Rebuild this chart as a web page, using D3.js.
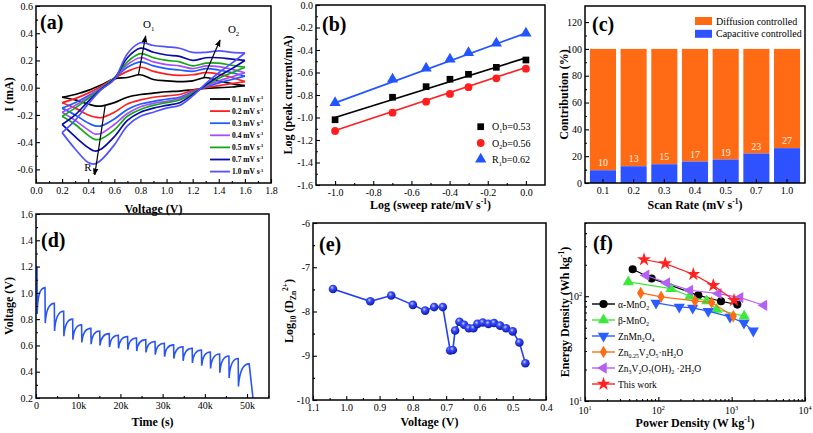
<!DOCTYPE html>
<html><head><meta charset="utf-8">
<script src="https://cdn.jsdelivr.net/npm/d3@7"></script>
<style>body{margin:0;background:#fff}svg{display:block}</style>
</head><body>
<script>
// ================= DATA =================
// (a) CV curves
const cvRates = ["0.1","0.2","0.3","0.4","0.5","0.7","1.0"];
const cvUpperV = [0.2,0.3,0.4,0.5,0.6,0.7,0.8,0.9,1.0,1.1,1.2,1.3,1.4,1.5,1.6];
const cvLowerV = [1.6,1.5,1.4,1.3,1.2,1.1,1.0,0.9,0.8,0.7,0.6,0.5,0.45,0.4,0.3,0.2];
const cvUpperI = [
 [-0.07,-0.05,-0.02,0.02,0.065,0.075,0.095,0.06,0.05,0.045,0.05,0.075,0.05,0.03,0.015],
 [-0.11,-0.08,-0.04,0.01,0.07,0.12,0.15,0.12,0.10,0.09,0.095,0.11,0.10,0.075,0.045],
 [-0.15,-0.11,-0.06,0.0,0.07,0.15,0.19,0.16,0.14,0.13,0.12,0.14,0.13,0.11,0.085],
 [-0.18,-0.13,-0.07,0.0,0.07,0.17,0.22,0.19,0.17,0.16,0.14,0.16,0.155,0.135,0.11],
 [-0.21,-0.15,-0.08,-0.005,0.07,0.19,0.25,0.22,0.20,0.19,0.16,0.18,0.18,0.165,0.15],
 [-0.27,-0.20,-0.10,-0.01,0.065,0.22,0.29,0.26,0.24,0.23,0.20,0.22,0.22,0.21,0.20],
 [-0.33,-0.24,-0.12,-0.015,0.06,0.25,0.33,0.31,0.30,0.29,0.26,0.26,0.27,0.26,0.255]
];
const cvLowerI = [
 [0.015,0.005,0.0,-0.005,-0.015,-0.025,-0.03,-0.04,-0.05,-0.07,-0.11,-0.135,-0.133,-0.12,-0.09,-0.07],
 [0.045,0.03,0.015,0.0,-0.02,-0.05,-0.06,-0.07,-0.09,-0.12,-0.18,-0.22,-0.215,-0.2,-0.15,-0.11],
 [0.085,0.06,0.035,0.005,-0.03,-0.07,-0.085,-0.10,-0.12,-0.16,-0.23,-0.28,-0.28,-0.26,-0.2,-0.15],
 [0.11,0.08,0.05,0.01,-0.035,-0.08,-0.10,-0.115,-0.14,-0.19,-0.27,-0.335,-0.34,-0.31,-0.24,-0.18],
 [0.15,0.11,0.07,0.015,-0.04,-0.09,-0.11,-0.13,-0.16,-0.21,-0.31,-0.375,-0.38,-0.35,-0.27,-0.21],
 [0.20,0.14,0.085,0.02,-0.05,-0.11,-0.13,-0.15,-0.18,-0.24,-0.36,-0.45,-0.465,-0.44,-0.36,-0.27],
 [0.255,0.18,0.11,0.03,-0.06,-0.13,-0.15,-0.18,-0.21,-0.28,-0.42,-0.53,-0.56,-0.55,-0.45,-0.33]
];
const cvArrows = [ // [letter, index, fromV, fromI, toV, toI, labelV, labelI]
 ["O","1",0.784,0.093,0.84,0.38,0.82,0.44],
 ["O","2",1.286,0.076,1.41,0.35,1.47,0.40],
 ["R","1",0.53,-0.13,0.45,-0.64,0.37,-0.61]
];
const cvXTicks = [0.0,0.2,0.4,0.6,0.8,1.0,1.2,1.4,1.6,1.8];
const cvYTicks = [-0.6,-0.4,-0.2,0.0,0.2,0.4,0.6];

// (b) log peak current vs log sweep rate
const sweepLog = [-1.0,-0.699,-0.523,-0.398,-0.301,-0.155,0.0];
const peakO1 = [-1.02,-0.82,-0.726,-0.66,-0.616,-0.554,-0.489];
const peakO2 = [-1.12,-0.957,-0.859,-0.79,-0.73,-0.652,-0.566];
const peakR1 = [-0.868,-0.66,-0.563,-0.483,-0.424,-0.34,-0.252];
const peakNames = [["O","1","b=0.53"],["O","2","b=0.56"],["R","1","b=0.62"]];
const fitSlope = [0.53,0.56,0.62];
const fitIntercept = [-0.47,-0.555,-0.25];
const bXTicks = [-1.0,-0.8,-0.6,-0.4,-0.2,0.0];
const bYTicks = [-1.6,-1.4,-1.2,-1.0,-0.8,-0.6,-0.4,-0.2,0.0];

// (c) contribution
const scanRates = ["0.1","0.2","0.3","0.4","0.5","0.7","1.0"];
const capacitive = [9.5,12.5,14,16,17.5,22,26];
const capLabels = ["10","13","15","17","19","23","27"];
const totalContribution = [100,100,100,100,100,100,100];
const cYTicks = [0,20,40,60,80,100,120];

// (d) GITT
const gittTime = [0,2130,4340,6550,8680,10800,13000,15100,17350,19500,21700,23800,26000,28200,30400,32600,34800,37000,39200,41300,43500,45700,47900,50500];
const gittTop = [1.2,1.04,0.92,0.86,0.80,0.757,0.73,0.71,0.69,0.678,0.668,0.657,0.644,0.63,0.617,0.604,0.59,0.578,0.565,0.55,0.535,0.52,0.50,0.46];
const gittBottom = [0.84,0.77,0.71,0.67,0.644,0.623,0.61,0.60,0.588,0.578,0.567,0.557,0.546,0.53,0.514,0.50,0.483,0.467,0.446,0.425,0.393,0.353,0.287];
const gittCutoff = [51400,0.2];
const dXTicks = [0,10000,20000,30000,40000,50000];
const dYTicks = [0.2,0.4,0.6,0.8,1.0,1.2,1.4,1.6];

// (e) diffusion coefficient
const eVoltage = [1.04,0.928,0.865,0.80,0.763,0.736,0.71,0.688,0.68,0.673,0.66,0.646,0.632,0.618,0.606,0.59,0.573,0.556,0.538,0.52,0.50,0.48,0.462];
const eLogD = [-7.49,-7.77,-7.64,-7.85,-7.98,-7.90,-7.90,-8.88,-8.87,-8.43,-8.23,-8.30,-8.38,-8.38,-8.28,-8.25,-8.28,-8.26,-8.32,-8.38,-8.45,-8.70,-9.17];
const eXTicks = [1.1,1.0,0.9,0.8,0.7,0.6,0.5,0.4];
const eYTicks = [-10,-9,-8,-7,-6];

// (f) Ragone
const ragoneNames = ["alpha","beta","znmn","znv","znvoh","this"];
const ragonePower = [
 [44.7,81,351,716,1194],
 [39,149,269,457,624,1480],
 [93,193,294,479,949,1472,1972],
 [57.4,109,316,533,1054],
 [68,130,269,658,1300,2754],
 [63.8,124,300,562,1076]
];
const ragoneEnergy = [
 [181,147.6,102,89.5,83.2],
 [137,118,100,90,74.7,64.5],
 [86.3,79,77.4,72,63.5,55.6,46.7],
 [107.6,98.6,90.2,87,64.4],
 [158.6,134,114,106,97,82],
 [224,205,162,127,91.6]
];
const fTicksExp = [1,2,3,4];

// ================= STYLE =================
const FONT = "'Liberation Serif','Times New Roman',serif";
const cvColors = ["#000000","#ff1f1f","#1f5cff","#a64dff","#14a814","#0a0aa8","#5252ff"];
const bColors = ["#000000","#ff1f1f","#2255ff"];
const ragoneColors = ["#000000","#3de83d","#2b5cff","#ff6a13","#b260f5","#ff2222"];
const ORANGE = "#ff6a14", BLUE = "#2e52ff";

const svg = d3.select("body").append("svg").attr("width",813).attr("height",433)
  .style("font-family",FONT);

function rich(t, parts, fs){
  let shift = 0;
  parts.forEach(([s,k])=>{
    const target = k==="sup" ? -0.38*fs : k==="sub" ? 0.28*fs : 0;
    t.append("tspan").attr("dy", target-shift).attr("font-size", k ? fs*0.62 : fs).text(s);
    shift = target;
  });
  return t;
}
function styleAxis(sel, fs){
  sel.select(".domain").remove();
  sel.attr("font-family",null).attr("font-size",null);
  sel.selectAll("text").attr("font-size",fs||10).attr("fill","#000");
  sel.selectAll("line").attr("stroke","#000").attr("stroke-width",1.1);
}
const mids = a => d3.pairs(a).map(([p,q])=>(p+q)/2);
function axes(g, x, y, o){
  const xr=x.range(), yr=y.range();
  const L=Math.min(...xr), R=Math.max(...xr), T=Math.min(...yr), B=Math.max(...yr);
  const bx = d3.axisBottom(x).tickSize(-4).tickPadding(4);
  if(o.xMajor) bx.tickValues(o.xMajor);
  bx.tickFormat(o.xFmt || (d=>d));
  g.append("g").attr("transform",`translate(0,${B})`).call(bx).call(s=>styleAxis(s,10));
  if(o.xMinor) g.append("g").attr("transform",`translate(0,${B})`)
     .call(d3.axisBottom(x).tickValues(o.xMinor).tickSize(-2).tickFormat("")).call(s=>styleAxis(s));
  const ly = d3.axisLeft(y).tickSize(-4).tickPadding(3);
  if(o.yMajor) ly.tickValues(o.yMajor);
  ly.tickFormat(o.yFmt || (d=>d));
  g.append("g").attr("transform",`translate(${L},0)`).call(ly).call(s=>styleAxis(s,10));
  if(o.yMinor) g.append("g").attr("transform",`translate(${L},0)`)
     .call(d3.axisLeft(y).tickValues(o.yMinor).tickSize(-2).tickFormat("")).call(s=>styleAxis(s));
  g.append("rect").attr("x",L).attr("y",T).attr("width",R-L).attr("height",B-T)
    .attr("fill","none").attr("stroke","#000").attr("stroke-width",1.5);
  return {L,R,T,B};
}
function xTitle(g, x, y, parts){
  rich(g.append("text").attr("x",x).attr("y",y).attr("text-anchor","middle").attr("font-weight","bold"), parts, 12);
}
function yTitle(g, x, y, parts){
  rich(g.append("text").attr("transform",`translate(${x},${y}) rotate(-90)`).attr("text-anchor","middle").attr("font-weight","bold"), parts, 12);
}
function panelLabel(g, x, y, s){
  g.append("text").attr("x",x).attr("y",y).attr("font-size",20).attr("font-weight","bold").text(s);
}
const f1 = d=>(+d).toFixed(1);

// arrow marker
svg.append("defs").append("marker").attr("id","arr").attr("viewBox","0 0 10 10")
  .attr("refX",9).attr("refY",5).attr("markerWidth",7).attr("markerHeight",7)
  .attr("orient","auto-start-reverse").attr("markerUnits","userSpaceOnUse")
  .append("path").attr("d","M0,1 L10,5 L0,9 Z").attr("fill","#000");

// ================= (a) =================
{
  const g = svg.append("g");
  const x = d3.scaleLinear().domain([0,1.8]).range([36,271]);
  const y = d3.scaleLinear().domain([-0.7,0.6]).range([183,6]);
  const line = d3.line().x(d=>x(d[0])).y(d=>y(d[1])).curve(d3.curveCatmullRom.alpha(0.5));
  cvRates.forEach((r,i)=>{
    const up = cvUpperV.map((v,j)=>[v,cvUpperI[i][j]]);
    const lo = cvLowerV.map((v,j)=>[v,cvLowerI[i][j]]);
    [up,lo].forEach(p=>g.append("path").attr("d",line(p)).attr("fill","none")
      .attr("stroke",cvColors[i]).attr("stroke-width",1.7));
  });
  cvArrows.forEach(a=>{
    g.append("line").attr("x1",x(a[2])).attr("y1",y(a[3])).attr("x2",x(a[4])).attr("y2",y(a[5]))
      .attr("stroke","#000").attr("stroke-width",1.2).attr("marker-end","url(#arr)");
    rich(g.append("text").attr("x",x(a[6])).attr("y",y(a[7])).attr("fill","#000"),[[a[0]],[a[1],"sub"]],11);
  });
  axes(g,x,y,{xMajor:cvXTicks,xMinor:mids(cvXTicks),yMajor:cvYTicks,yMinor:mids(cvYTicks),xFmt:f1,yFmt:f1});
  const lg = g.append("g");
  cvRates.forEach((r,i)=>{
    const yy = 99 + i*12.1;
    lg.append("line").attr("x1",210).attr("x2",230).attr("y1",yy).attr("y2",yy).attr("stroke",cvColors[i]).attr("stroke-width",1.8);
    rich(lg.append("text").attr("x",232).attr("y",yy+2.8).attr("font-weight","bold"),[[r+" mV s"],["-1","sup"]],7.5);
  });
  panelLabel(g,40,29,"(a)");
  xTitle(g,153.5,213,[["Voltage (V)"]]);
  yTitle(g,13,94.5,[["I (mA)"]]);
}

// ================= (b) =================
{
  const g = svg.append("g");
  const x = d3.scaleLinear().domain([-1.1,0.1]).range([316,545]);
  const y = d3.scaleLinear().domain([-1.6,0.0]).range([185,5]);
  const series = [peakO1,peakO2,peakR1];
  const syms = [d3.symbolSquare,d3.symbolCircle,d3.symbolTriangle];
  const sizes = [45,48,55];
  series.forEach((s,i)=>{
    const xs = d3.extent(sweepLog);
    g.append("line").attr("x1",x(xs[0])).attr("x2",x(xs[1]))
      .attr("y1",y(fitIntercept[i]+fitSlope[i]*xs[0])).attr("y2",y(fitIntercept[i]+fitSlope[i]*xs[1]))
      .attr("stroke",bColors[i]).attr("stroke-width",1.7);
    g.selectAll(null).data(s).join("path")
      .attr("transform",(d,j)=>`translate(${x(sweepLog[j])},${y(d)})`)
      .attr("d",d3.symbol(syms[i],sizes[i])).attr("fill",bColors[i]);
  });
  axes(g,x,y,{xMajor:bXTicks,xMinor:mids(bXTicks),yMajor:bYTicks,yMinor:mids(bYTicks),xFmt:f1,yFmt:f1});
  peakNames.forEach((n,i)=>{
    const yy = 126.7 + i*16.3;
    g.append("path").attr("transform",`translate(480.7,${yy})`).attr("d",d3.symbol(syms[i],sizes[i])).attr("fill",bColors[i]);
    rich(g.append("text").attr("x",492).attr("y",yy+3.5),[[n[0]],[n[1],"sub"],[n[2]]],10);
  });
  panelLabel(g,322,31,"(b)");
  xTitle(g,430.5,208.5,[["Log (sweep rate/mV s"],["-1","sup"],[")"]]);
  yTitle(g,292,95,[["Log (peak current/mA)"]]);
}

// ================= (c) =================
{
  const g = svg.append("g");
  const x = d3.scaleBand().domain(scanRates).range([585,805]).paddingInner(0.15).paddingOuter(0.16);
  const y = d3.scaleLinear().domain([0,132]).range([183,6]);
  g.selectAll(null).data(scanRates).join("rect")
    .attr("x",d=>x(d)).attr("width",x.bandwidth())
    .attr("y",(d,i)=>y(totalContribution[i])).attr("height",(d,i)=>y(capacitive[i])-y(totalContribution[i]))
    .attr("fill",ORANGE);
  g.selectAll(null).data(scanRates).join("rect")
    .attr("x",d=>x(d)).attr("width",x.bandwidth())
    .attr("y",(d,i)=>y(capacitive[i])).attr("height",(d,i)=>y(0)-y(capacitive[i]))
    .attr("fill",BLUE);
  g.selectAll(null).data(scanRates).join("text")
    .attr("x",d=>x(d)+x.bandwidth()/2).attr("y",(d,i)=>y(capacitive[i])-4)
    .attr("text-anchor","middle").attr("font-size",10).attr("fill","#fff2e6")
    .text((d,i)=>capLabels[i]);
  axes(g,x,y,{yMajor:cYTicks,yMinor:mids(cYTicks),xFmt:d=>d,yFmt:d=>d});
  [["Diffusion controlled",ORANGE],["Capacitive controlled",BLUE]].forEach((e,i)=>{
    const yy = 17 + i*12.8;
    g.append("rect").attr("x",695).attr("y",yy).attr("width",17).attr("height",8).attr("fill",e[1]);
    g.append("text").attr("x",716).attr("y",yy+7.5).attr("font-size",10).text(e[0]);
  });
  panelLabel(g,592,31,"(c)");
  xTitle(g,695,208.5,[["Scan Rate (mV s"],["-1","sup"],[")"]]);
  yTitle(g,568,94.5,[["Contribution (%)"]]);
}

// ================= (d) =================
{
  const g = svg.append("g");
  const x = d3.scaleLinear().domain([0,55200]).range([36,269]);
  const y = d3.scaleLinear().domain([0.2,1.6]).range([398,214]);
  const p = d3.path();
  p.moveTo(x(gittTime[0])+1,y(gittTop[0]));
  gittBottom.forEach((b,k)=>{
    const t0 = gittTime[k], t1 = gittTime[k+1];
    const ts = t0 + 60;
    p.lineTo(x(ts)+(k===0?1:0),y(b));
    p.quadraticCurveTo(x(ts+0.14*(t1-ts)),y(gittTop[k+1]),x(t1),y(gittTop[k+1]));
  });
  p.lineTo(x(gittCutoff[0]),y(gittCutoff[1]));
  g.append("path").attr("d",p.toString()).attr("fill","none").attr("stroke","#2a55f5").attr("stroke-width",1.6);
  axes(g,x,y,{xMajor:dXTicks,xMinor:mids(dXTicks).concat([55000]),yMajor:dYTicks,yMinor:mids(dYTicks),
    xFmt:d=>d===0?"0":(d/1000)+"k", yFmt:f1});
  panelLabel(g,41,247,"(d)");
  xTitle(g,152.5,426,[["Time (s)"]]);
  yTitle(g,13,306,[["Voltage (V)"]]);
}

// ================= (e) =================
{
  const g = svg.append("g");
  const x = d3.scaleLinear().domain([1.1,0.4]).range([313,546]);
  const y = d3.scaleLinear().domain([-10,-6]).range([400,223]);
  const defs = svg.select("defs");
  const rg = defs.append("radialGradient").attr("id","ball").attr("cx","40%").attr("cy","35%").attr("r","65%");
  rg.append("stop").attr("offset","0%").attr("stop-color","#c8d0ff");
  rg.append("stop").attr("offset","35%").attr("stop-color","#3a4cff");
  rg.append("stop").attr("offset","100%").attr("stop-color","#0c18a8");
  const pts = eVoltage.map((v,i)=>[v,eLogD[i]]);
  g.append("path").attr("d",d3.line().x(d=>x(d[0])).y(d=>y(d[1]))(pts))
    .attr("fill","none").attr("stroke","#2440f0").attr("stroke-width",1.6);
  g.selectAll(null).data(pts).join("circle").attr("cx",d=>x(d[0])).attr("cy",d=>y(d[1])).attr("r",4.3)
    .attr("fill","url(#ball)");
  axes(g,x,y,{xMajor:eXTicks,xMinor:mids(eXTicks),yMajor:eYTicks,yMinor:mids(eYTicks),xFmt:f1,yFmt:d=>d});
  panelLabel(g,319,251,"(e)");
  xTitle(g,429.5,426,[["Voltage (V)"]]);
  yTitle(g,293,311,[["Log"],["10","sub"],[" (D"],["Zn","sub"],["2+","sup"],[")"]]);
}

// ================= (f) =================
{
  const g = svg.append("g");
  const x = d3.scaleLog().domain([10,10000]).range([585,805]);
  const y = d3.scaleLog().domain([10,500]).range([401,223]);
  const syms = [[d3.symbolCircle,0],[d3.symbolTriangle,0],[d3.symbolTriangle,180],[d3.symbolDiamond,0],[d3.symbolTriangle,-90],[d3.symbolStar,0]];
  const sizes = [52,55,55,45,55,60];
  const line = d3.line().x(d=>x(d[0])).y(d=>y(d[1]));
  ragoneNames.forEach((n,i)=>{
    const pts = ragonePower[i].map((p,j)=>[p,ragoneEnergy[i][j]]);
    g.append("path").attr("d",line(pts)).attr("fill","none").attr("stroke",ragoneColors[i]).attr("stroke-width",1.2);
    g.selectAll(null).data(pts).join("path")
      .attr("transform",d=>`translate(${x(d[0])},${y(d[1])}) rotate(${syms[i][1]})`)
      .attr("d",d3.symbol(syms[i][0],sizes[i])).attr("fill",ragoneColors[i]);
  });
  const xMaj = fTicksExp.map(e=>Math.pow(10,e));
  const xMin = x.ticks().filter(t=>!xMaj.includes(t));
  const yMaj = [10,100];
  const yMin = y.ticks().filter(t=>!yMaj.includes(t));
  const b = axes(g,x,y,{xMajor:xMaj,xMinor:xMin,yMajor:yMaj,yMinor:yMin,xFmt:()=>"",yFmt:()=>""});
  xMaj.forEach(v=>{
    rich(g.append("text").attr("x",x(v)).attr("y",b.B+13).attr("text-anchor","middle"),[["10"],[String(Math.round(Math.log10(v))),"sup"]],10);
  });
  yMaj.forEach(v=>{
    rich(g.append("text").attr("x",b.L-3).attr("y",y(v)+3.5).attr("text-anchor","end"),[["10"],[String(Math.round(Math.log10(v))),"sup"]],10);
  });
  const legendText = [
    [["α-MnO"],["2","sub"]],
    [["β-MnO"],["2","sub"]],
    [["ZnMn"],["2","sub"],["O"],["4","sub"]],
    [["Zn"],["0.25","sub"],["V"],["2","sub"],["O"],["5","sub"],["·nH"],["2","sub"],["O"]],
    [["Zn"],["3","sub"],["V"],["2","sub"],["O"],["7","sub"],["(OH)"],["2","sub"],[" ·2H"],["2","sub"],["O"]],
    [["This work"]]
  ];
  legendText.forEach((t,i)=>{
    const yy = 304 + i*16;
    g.append("line").attr("x1",592).attr("x2",615).attr("y1",yy).attr("y2",yy).attr("stroke",ragoneColors[i]).attr("stroke-width",1.4);
    g.append("path").attr("transform",`translate(603.5,${yy}) rotate(${syms[i][1]})`).attr("d",d3.symbol(syms[i][0],sizes[i])).attr("fill",ragoneColors[i]);
    rich(g.append("text").attr("x",618).attr("y",yy+3.5),t,9.5);
  });
  panelLabel(g,593,250,"(f)");
  xTitle(g,695,427,[["Power Density (W kg"],["-1","sup"],[")"]]);
  yTitle(g,569,312,[["Energy Density (Wh kg"],["-1","sup"],[")"]]);
}
</script>
</body></html>
